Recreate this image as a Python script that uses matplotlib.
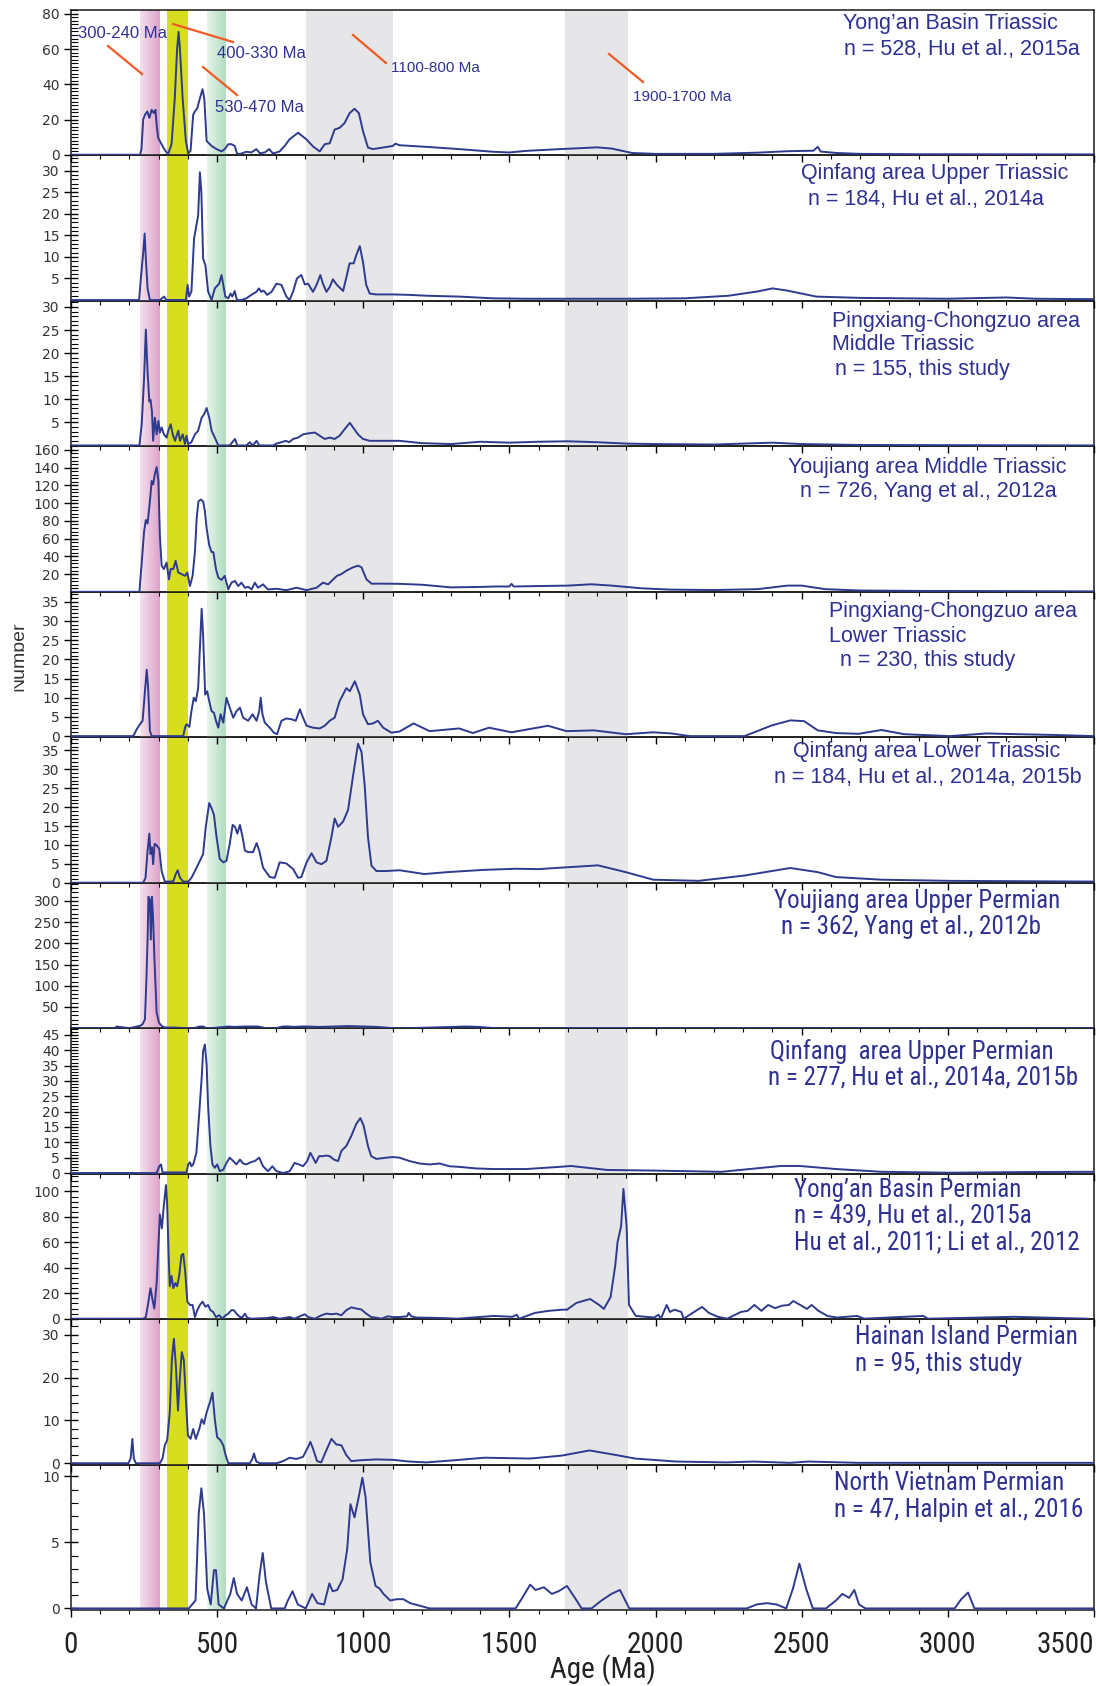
import matplotlib
matplotlib.use("Agg")
import matplotlib.pyplot as plt
from matplotlib import font_manager
from matplotlib.ticker import MultipleLocator
from matplotlib.lines import Line2D
from matplotlib.patches import Rectangle

# ---- detrital zircon age spectra (age in Ma, number) ----
a1 = [0, 236, 241, 247, 253, 261, 268, 276, 284, 289,
      293, 298, 304, 316, 327, 333, 344, 355, 363, 368,
      372, 382, 393, 401, 409, 418, 424, 432, 441, 450,
      456, 464, 481, 498, 515, 526, 538, 549, 560, 568,
      577, 600, 617, 634, 646, 663, 678, 691, 714, 731,
      748, 777, 805, 828, 851, 868, 885, 902, 919, 936,
      953, 970, 985, 999, 1016, 1033, 1067, 1101, 1110, 1124,
      1215, 1329, 1443, 1500, 1557, 1671, 1750, 1800, 1850, 1920,
      2000, 2200, 2350, 2450, 2540, 2555, 2565, 2620, 2700, 2900,
      3500]
c1 = [0, 0, 3, 20, 22.7, 24.6, 20.9, 25.5, 23.6, 25.5,
      17, 9.7, 7.8, 4, 1.3, 0.7, 6, 32, 60, 69.8,
      61.8, 32, 7.8, 0.7, 2.2, 22.7, 24.6, 26.4, 32, 37.2,
      32, 7.8, 5, 3.2, 1.9, 3.2, 6, 6, 5, 0.7,
      0.4, 1.7, 1.3, 3.2, 0.9, 1.3, 3.2, 0.7, 1.9, 5,
      8.8, 12.5, 8.8, 4.7, 1.9, 6, 6.5, 14.3, 15.3, 18,
      23.6, 26.1, 23.6, 13.4, 4.1, 3.2, 4.1, 5, 6.3, 5.4,
      4.5, 3.2, 1.7, 1.3, 2.2, 3.2, 3.8, 4.2, 3.5, 1.0,
      0.5, 0.5, 1.2, 2.0, 2.3, 4.5, 1.8, 1.0, 0.5, 0.3,
      0.2]

a2 = [0, 233, 238, 247, 252, 256, 262, 270, 304, 318,
      327, 350, 393, 399, 404, 412, 421, 429, 435, 441,
      446, 452, 460, 469, 481, 492, 507, 515, 521, 528,
      538, 546, 552, 560, 568, 583, 600, 617, 634, 643,
      651, 659, 671, 686, 703, 720, 737, 748, 760, 773,
      788, 800, 811, 828, 840, 853, 862, 874, 885, 896,
      910, 931, 944, 953, 967, 976, 988, 999, 1010, 1022,
      1044, 1101, 1158, 1215, 1329, 1443, 1557, 1671, 1900, 2100,
      2250, 2350, 2400, 2450, 2550, 2700, 3000, 3200, 3300, 3500]
c2 = [0, 0, 4.2, 11, 15.4, 9.6, 2.7, 0, 0, 0.8,
      0, 0, 0, 3.5, 0.8, 2, 14.2, 17.3, 19.6, 29.6,
      25, 9.6, 8, 2, 0, 2.7, 3.8, 5.8, 3.5, 0.8,
      0.4, 1.5, 0.8, 2.1, 0, 0, 0.4, 1.2, 1.9, 2.7,
      1.9, 2.2, 1.2, 1.9, 3.8, 3.5, 0.8, 0, 2, 5,
      5.8, 3.6, 3.8, 1.9, 3.5, 5.8, 3.8, 1.9, 3, 4.8,
      3.5, 2.1, 5.8, 8.5, 8.5, 10.4, 12.5, 8.8, 3.5, 1.5,
      1.3, 1.3, 1.2, 1.0, 0.8, 0.4, 0.3, 0.3, 0.3, 0.4,
      1.0, 2.0, 2.7, 2.2, 0.8, 0.5, 0.3, 0.6, 0.3, 0.2]

a3 = [0, 234, 242, 250, 256, 262, 268, 272, 277, 281,
      287, 293, 299, 304, 310, 318, 327, 333, 341, 348,
      356, 367, 373, 382, 390, 395, 401, 412, 424, 435,
      447, 455, 464, 473, 481, 492, 504, 543, 561, 569,
      600, 612, 621, 635, 644, 692, 703, 720, 735, 746,
      760, 777, 794, 811, 834, 851, 868, 885, 902, 919,
      936, 954, 965, 982, 999, 1022, 1124, 1200, 1300, 1400,
      1500, 1600, 1700, 1800, 1900, 2000, 2200, 2400, 2500, 2700,
      3500]
c3 = [0, 0, 4.6, 14.5, 25.1, 15.9, 9.5, 9.9, 7.4, 1,
      6, 2.4, 5.3, 2.8, 3.9, 2.4, 1.7, 3.2, 4.6, 2.4,
      1, 3.2, 1, 2.4, 0.3, 2.1, 0.3, 0.7, 2.4, 3.2,
      6, 6.7, 8.1, 6, 3.2, 1.7, 0, 0, 1.4, 0,
      0, 0.7, 0, 1, 0, 0, 0.4, 0.7, 1, 0.7,
      1.4, 1.7, 2.4, 2.6, 2.8, 2.1, 1.4, 1.7, 1.4, 2.1,
      3.5, 4.9, 3.9, 2.4, 1.4, 1, 1.0, 0.5, 0.3, 0.8,
      0.6, 0.8, 0.9, 0.7, 0.4, 0.3, 0.2, 0.6, 0.3, 0.1,
      0]

a4 = [0, 234, 242, 250, 256, 262, 270, 276, 281, 287,
      293, 299, 304, 310, 318, 327, 335, 341, 350, 358,
      367, 378, 390, 398, 407, 416, 424, 430, 436, 444,
      452, 458, 464, 473, 481, 487, 496, 504, 515, 526,
      538, 549, 561, 572, 583, 595, 606, 618, 629, 640,
      657, 674, 703, 737, 771, 806, 840, 862, 880, 897,
      910, 925, 942, 965, 982, 994, 1011, 1028, 1068, 1124,
      1200, 1300, 1400, 1450, 1500, 1507, 1515, 1600, 1700, 1780,
      1850, 1950, 2050, 2200, 2350, 2450, 2500, 2580, 2700, 2900,
      3200, 3500]
c4 = [0, 0, 33, 68, 81, 77, 102, 125, 121, 133,
      140.6, 125, 64, 29.5, 25.7, 33, 14, 25.7, 25.7, 35,
      21.8, 20, 18, 21.8, 6.5, 18, 44.8, 83, 102, 104,
      102, 91, 71.6, 52.5, 44.8, 44.8, 25.7, 16, 13.4, 18,
      2.7, 10.3, 12.3, 6.5, 10.3, 4.6, 5.7, 2.7, 10.3, 4.6,
      8.4, 2.7, 3.4, 1.9, 4.6, 1.9, 4.6, 10.3, 8.4, 14,
      18, 20, 23.8, 27.6, 29.5, 27.6, 14, 9.2, 9.2, 9,
      8, 5, 5.5, 6, 6, 9, 6, 6.5, 7, 8.5,
      7, 4, 2.5, 2, 3, 7, 7, 3, 1.5, 1,
      0.8, 0.5]

a5 = [0, 213, 225, 236, 245, 253, 259, 264, 270, 276,
      384, 390, 395, 405, 412, 420, 427, 435, 441, 447,
      452, 459, 466, 473, 481, 489, 496, 504, 512, 521,
      532, 543, 555, 566, 578, 589, 606, 621, 635, 644,
      649, 655, 663, 680, 694, 705, 720, 737, 754, 769,
      783, 794, 806, 828, 851, 868, 885, 902, 919, 942,
      954, 971, 988, 999, 1016, 1033, 1050, 1068, 1096, 1124,
      1172, 1227, 1328, 1375, 1430, 1507, 1632, 1695, 1789, 1898,
      1992, 2054, 2117, 2304, 2398, 2461, 2508, 2555, 2617, 2695,
      2773, 2851, 3007, 3132, 3241, 3366, 3500]
c5 = [0, 0, 1.8, 3.1, 4, 11.7, 17.3, 12.5, 1.4, 0,
      0, 2.2, 3.1, 2.4, 6.5, 10, 9.1, 12.5, 22.9, 33.2,
      26.3, 10.8, 11.7, 9.1, 6.5, 6.1, 4, 2.2, 5.7, 3.5,
      10, 7.4, 4.8, 6.5, 7.4, 4.8, 4, 5.7, 4, 6.5,
      10, 5.7, 3.5, 2.2, 0.9, 0.5, 4, 4.6, 4.4, 4,
      7, 4.8, 2.7, 2.2, 2, 2.7, 4, 4.8, 9.1, 12.5,
      11.7, 14.3, 10.8, 5.7, 3.1, 3.3, 4, 2.2, 0.9, 1.2,
      3.3, 1.3, 2, 0.8, 2.2, 1, 2.7, 1.3, 1.5, 0.5,
      1, 0.7, 0, 0, 2.8, 4.1, 3.9, 1.5, 0.8, 0.6,
      1.6, 0.5, 0, 0.7, 0.5, 0.3, 0]

a6 = [0, 247, 255, 262, 268, 272, 277, 281, 286, 293,
      302, 310, 321, 338, 350, 358, 365, 373, 384, 401,
      412, 424, 441, 452, 461, 473, 481, 489, 498, 509,
      521, 532, 543, 553, 561, 569, 578, 587, 595, 606,
      623, 635, 644, 657, 680, 697, 714, 737, 760, 777,
      788, 806, 823, 840, 857, 874, 891, 902, 914, 931,
      948, 965, 982, 994, 1005, 1016, 1028, 1045, 1079, 1124,
      1209, 1287, 1412, 1522, 1600, 1678, 1803, 1898, 1992, 2148,
      2304, 2461, 2555, 2617, 2773, 3007, 3500]
c6 = [0, 0, 1.3, 8.5, 13, 7.6, 9.4, 4.9, 10.3, 9.9,
      9, 3.1, 0.3, 0.3, 0.4, 2.2, 3.3, 1.3, 0.3, 0.3,
      1.3, 3.1, 5.8, 7.6, 14.8, 21.1, 19.7, 18, 12.1, 6.3,
      5.4, 5.8, 10.3, 15.3, 14.8, 13, 15.3, 12.1, 8.5, 8.1,
      8.1, 10.5, 8.5, 4, 1.5, 1.3, 5.4, 5.1, 3.6, 1.3,
      1.5, 5.4, 7.8, 5.4, 4.9, 5.8, 12.1, 17, 14.8, 16.2,
      19.3, 28.3, 36.8, 34.6, 25.6, 12.1, 4.5, 3.1, 3.1, 3.3,
      2.3, 2.8, 3.4, 3.7, 3.6, 4, 4.6, 2.8, 0.8, 0.5,
      1.9, 3.9, 2.8, 1.5, 0.8, 0.5, 0.3]

a7 = [0, 150, 156, 200, 236, 245, 253, 258, 262, 265,
      270, 273, 277, 281, 286, 293, 301, 310, 321, 350,
      395, 420, 440, 452, 464, 480, 537, 560, 600, 640,
      668, 700, 725, 745, 760, 790, 805, 850, 900, 950,
      1000, 1050, 1101, 1150, 1306, 1350, 1397, 1450, 3500]
c7 = [0, 0, 4, 0, 5.5, 9.4, 21, 115, 209, 310,
      303, 209, 310, 256, 154, 37, 13, 5.5, 1.6, 1.6,
      0, 0, 4, 4, 0, 0, 4, 3, 4, 4,
      0, 0, 4, 4, 3, 4, 4, 3, 4, 5,
      4, 3, 0, 0, 3, 4, 3, 0, 0]

a8 = [0, 293, 302, 308, 313, 395, 401, 407, 412, 418,
      429, 439, 447, 452, 458, 464, 469, 477, 484, 492,
      500, 509, 521, 532, 543, 555, 566, 578, 589, 600,
      614, 629, 644, 657, 674, 689, 703, 726, 748, 765,
      780, 794, 808, 819, 828, 837, 849, 862, 874, 885,
      899, 914, 925, 942, 959, 976, 990, 1001, 1016, 1027,
      1045, 1079, 1101, 1124, 1158, 1193, 1227, 1261, 1295, 1329,
      1386, 1443, 1557, 1671, 1710, 1835, 1992, 2226, 2429, 2492,
      2617, 2773, 3007, 3241, 3500]
c8 = [0, 0, 2.2, 2.8, 0.2, 0.2, 2.8, 3.5, 2.2, 2.8,
      6.6, 19.9, 30.9, 39.7, 41.9, 35.3, 22, 8.8, 2.8, 1.7,
      2.8, 0.6, 1.1, 3.3, 5, 3.9, 2.8, 4.4, 3.1, 2.8,
      3.5, 3.9, 5, 2.2, 0.6, 2.2, 0.6, 0, 0.6, 3.3,
      2.8, 2.2, 3.9, 6.6, 5, 3.3, 5.5, 5.5, 5.7, 5.5,
      4.4, 3.9, 7.2, 8.8, 12.1, 16, 17.9, 15.5, 8.8, 5.5,
      4.6, 5, 5.2, 5, 3.9, 3.1, 2.8, 3.1, 2.2, 2,
      1.5, 1.3, 1.3, 2, 2.3, 1, 0.8, 0.4, 2.3, 2.3,
      1.3, 0.4, 0.1, 0.3, 0.4]

a9 = [0, 247, 256, 264, 272, 279, 285, 293, 300, 304,
      311, 318, 325, 329, 334, 338, 344, 350, 357, 363,
      370, 378, 384, 391, 398, 407, 416, 424, 432, 441,
      450, 460, 469, 477, 486, 496, 507, 518, 529, 538,
      549, 557, 566, 578, 587, 595, 603, 617, 669, 691,
      714, 748, 765, 783, 800, 811, 834, 857, 874, 891,
      908, 925, 942, 959, 976, 993, 1010, 1027, 1045, 1062,
      1084, 1101, 1124, 1150, 1155, 1164, 1181, 1215, 1272, 1322,
      1447, 1510, 1525, 1533, 1588, 1635, 1682, 1697, 1729, 1776,
      1807, 1823, 1846, 1862, 1870, 1882, 1890, 1901, 1909, 1932,
      1995, 2010, 2018, 2038, 2049, 2065, 2088, 2096, 2159, 2182,
      2213, 2245, 2292, 2315, 2338, 2362, 2385, 2409, 2432, 2456,
      2471, 2495, 2518, 2534, 2557, 2588, 2620, 2690, 2713, 2916,
      2932, 3228, 3478]
c9 = [0, 0, 1.3, 12, 24, 14.8, 8, 28, 63, 82,
      71, 90, 105, 90, 50, 25.5, 33.6, 24, 28, 25.5,
      33.6, 50, 51, 36.3, 13.4, 10.8, 10.8, 1.3, 6.7, 10.8,
      13.4, 9.4, 10.8, 6.7, 5.4, 1.3, 2.7, 0, 2.7, 4,
      6.7, 6.7, 4, 1.3, 1.3, 4, 0.8, 0, 0.5, 1.3,
      0, 1.3, 0, 1.9, 3.5, 1.3, 0, 2.7, 4, 3.5,
      4, 2.7, 6.7, 8.9, 8, 7.3, 4, 1.3, 0.8, 0,
      1.9, 1.3, 1.3, 1.9, 4.6, 1.9, 0.9, 0.8, 0.5, 0,
      2.2, 1.5, 3.1, 0, 4.6, 6.2, 7.1, 7.1, 12.4, 15.5,
      10.8, 7.7, 17, 41.7, 60.3, 72.6, 102, 72.6, 10.8, 2.2,
      0.9, 3.1, 0, 10.8, 5.3, 7.1, 5.3, 0, 9.3, 4.6,
      1.5, 0, 5.3, 6.2, 10.8, 6.2, 10.8, 8.3, 10.2, 10.8,
      13.9, 10.8, 7.7, 10.8, 6.2, 2.2, 0.9, 2.2, 0, 2.2,
      0, 1.5, 0]

a10 = [0, 196, 204, 210, 215, 222, 304, 313, 321, 329,
       338, 345, 352, 359, 366, 372, 379, 386, 393, 400,
       409, 418, 427, 439, 447, 455, 464, 475, 484, 492,
       500, 511, 521, 529, 538, 612, 621, 626, 634, 646,
       703, 726, 748, 771, 794, 811, 819, 828, 842, 856,
       874, 891, 908, 925, 942, 959, 988, 1045, 1101, 1158,
       1215, 1272, 1329, 1415, 1571, 1680, 1774, 1867, 1930, 2070,
       2242, 2336, 2460, 2523, 2695, 3500]
c10 = [0, 0, 1.1, 5.7, 1.1, 0, 0, 1.1, 4.2, 5.4,
       11.9, 24.1, 29.1, 22.6, 12.3, 19.5, 26, 24.1, 15, 6.5,
       5.7, 8, 5.7, 8, 10.3, 9.2, 11.9, 14.2, 16.5, 10.3,
       6.1, 5.4, 4.2, 1.9, 0, 0, 1.1, 2.3, 0.4, 0,
       0, 0.5, 1.3, 1, 1.5, 3.8, 5, 3.4, 0.5, 0.2,
       3.1, 5.7, 4.4, 4.2, 1.9, 0.5, 0.7, 0.9, 0.8, 0.4,
       0.2, 0.5, 0.8, 1.3, 1.1, 1.8, 3, 1.9, 1.1, 0.4,
       0.2, 0.4, 0.1, 0.4, 0.1, 0.1]

a11 = [0, 403, 426, 437, 446, 455, 466, 478, 489, 496,
       505, 523, 545, 557, 568, 584, 602, 618, 633, 645,
       656, 667, 685, 731, 742, 758, 776, 803, 825, 843,
       866, 884, 895, 911, 929, 945, 956, 970, 984, 997,
       1008, 1024, 1042, 1056, 1069, 1092, 1115, 1137, 1160, 1194,
       1227, 1521, 1544, 1571, 1589, 1618, 1645, 1668, 1697, 1724,
       1747, 1781, 1815, 1849, 1878, 1894, 1910, 2312, 2346, 2380,
       2414, 2447, 2470, 2492, 2515, 2538, 2583, 2617, 2639, 2662,
       2680, 2696, 2718, 3023, 3046, 3069, 3091, 3114, 3500]
c11 = [0, 0, 0.6, 7.2, 9.1, 7.2, 1.5, 0.3, 2.9, 2.9,
       0.3, 0, 1.1, 2.3, 1.1, 0.6, 1.6, 0.3, 0, 2.5,
       4.2, 2, 0, 0, 0.6, 1.3, 0.3, 0, 1.1, 0.4,
       0.3, 1.9, 1.3, 1.4, 2.2, 4.5, 7.9, 6.9, 8.4, 9.9,
       8.4, 3.5, 1.7, 1.5, 1.1, 0.6, 0.7, 0.7, 0.4, 0.2,
       0, 0, 0.8, 1.8, 1.4, 1.6, 1.1, 1.3, 1.7, 0.8,
       0, 0, 0.6, 1.1, 1.4, 0.7, 0, 0, 0.3, 0.4,
       0.3, 0, 1.5, 3.4, 1.5, 0, 0, 0.6, 1.1, 0.8,
       1.4, 0.3, 0, 0, 0.7, 1.2, 0, 0, 0]

ages = [a1, a2, a3, a4, a5, a6, a7, a8, a9, a10, a11]
counts = [c1, c2, c3, c4, c5, c6, c7, c8, c9, c10, c11]

ylims = [(-0.4, 82.2), (-0.2, 33.5), (-0.2, 31.3), (0, 164), (-0.3, 37.6),
         (0, 38.5), (0, 343), (-0.2, 47.2), (-0.3, 114), (-0.3, 33.7), (-0.12, 10.9)]
yticks = [[0, 20, 40, 60, 80],
          [5, 10, 15, 20, 25, 30],
          [5, 10, 15, 20, 25, 30],
          [20, 40, 60, 80, 100, 120, 140, 160],
          [0, 5, 10, 15, 20, 25, 30, 35],
          [0, 5, 10, 15, 20, 25, 30, 35],
          [50, 100, 150, 200, 250, 300],
          [0, 5, 10, 15, 20, 25, 30, 35, 40, 45],
          [0, 20, 40, 60, 80, 100],
          [0, 10, 20, 30],
          [0, 5, 10]]
yminor = [2, 1, 1, 4, 1, 1, 10, 1, 4, 2, 1]

# highlighted age windows (Ma) and their left/right colours
bands = [(235, 305, "#f4dfec", "#dca4cb"),
         (330, 402, "#d6de1e", "#d6de1e"),
         (465, 532, "#e4f3e8", "#b0dbbf"),
         (805, 1100, "#e6e6e8", "#e6e6e8"),
         (1690, 1905, "#e6e6e8", "#e6e6e8")]

labels = [
    [("Yong\u2019an Basin Triassic", 843, 24), ("n = 528, Hu et al., 2015a", 844, 50)],
    [("Qinfang area Upper Triassic", 801, 174), ("n = 184, Hu et al., 2014a", 808, 199)],
    [("Pingxiang-Chongzuo area", 832, 322), ("Middle Triassic", 832, 345), ("n = 155, this study", 835, 370)],
    [("Youjiang area Middle Triassic", 788, 467), ("n = 726, Yang et al., 2012a", 800, 491)],
    [("Pingxiang-Chongzuo area", 829, 611), ("Lower Triassic", 829, 636), ("n = 230, this study", 840, 660)],
    [("Qinfang area Lower Triassic", 793, 752), ("n = 184, Hu et al., 2014a, 2015b", 774, 778)],
    [("Youjiang area Upper Permian", 774, 901), ("n = 362, Yang et al., 2012b", 781, 927)],
    [("Qinfang  area Upper Permian", 770, 1052), ("n = 277, Hu et al., 2014a, 2015b", 768, 1077)],
    [("Yong\u2019an Basin Permian", 794, 1190), ("n = 439, Hu et al., 2015a", 794, 1215),
     ("Hu et al., 2011; Li et al., 2012", 794, 1242)],
    [("Hainan Island Permian", 855, 1337), ("n = 95, this study", 855, 1364)],
    [("North Vietnam Permian", 834, 1483), ("n = 47, Halpin et al., 2016", 834, 1510)],
]

window_labels = [("300-240 Ma", 78, 33, 12), ("400-330 Ma", 217, 53, 12), ("530-470 Ma", 215, 107, 12),
                 ("1100-800 Ma", 391, 68, 11), ("1900-1700 Ma", 633, 97, 11)]
pointers = [((108, 142), (46, 74)), ((173, 233), (24, 42)), ((203, 237), (67, 95)),
            ((353, 386), (35, 63)), ((609, 643), (54, 82))]

W, H = 1096, 1686
LINE = "#2e3a8e"
TXT = "#2e3192"
SANS = ["Liberation Sans", "DejaVu Sans"]

# a narrow face if one is installed, otherwise the regular one a bit smaller
installed = {f.name for f in font_manager.fontManager.ttflist}
narrow_name = next((n for n in ["Liberation Sans Narrow", "Arial Narrow", "Roboto Condensed",
                                "Open Sans Condensed", "DejaVu Sans Condensed"] if n in installed), None)
if narrow_name:
    NARROW = [narrow_name, "Liberation Sans"]
    big_size, axis_size = 18, 21
else:
    NARROW = SANS
    big_size, axis_size = 16, 18


def fx(x):
    return x / W


def fy(y):
    return 1 - y / H


def mix(c0, c1, t):
    r0, g0, b0 = matplotlib.colors.to_rgb(c0)
    r1, g1, b1 = matplotlib.colors.to_rgb(c1)
    return (r0 + (r1 - r0) * t, g0 + (g1 - g0) * t, b0 + (b1 - b0) * t)


fig = plt.figure(figsize=(W / 100, H / 100), dpi=100)
gs = fig.add_gridspec(11, 1, left=71 / W, right=1094 / W, top=1 - 10 / H, bottom=1 - 1610 / H, hspace=0)

for i in range(11):
    ax = fig.add_subplot(gs[i])
    ax.set_zorder(30 - i)
    ax.patch.set_visible(False)
    for x0, x1, col0, col1 in bands:
        n = 20
        for k in range(n):
            ax.axvspan(x0 + (x1 - x0) * k / n, x0 + (x1 - x0) * (k + 1) / n,
                       color=mix(col0, col1, k / (n - 1)), lw=0, zorder=0)
    ax.plot(ages[i], counts[i], color=LINE, lw=1.4, zorder=3)
    ax.set_xlim(0, 3500)
    ax.set_ylim(*ylims[i])
    ax.set_yticks(yticks[i])
    ax.yaxis.set_minor_locator(MultipleLocator(yminor[i]))
    ax.set_xticks(range(0, 3501, 500))
    ax.xaxis.set_minor_locator(MultipleLocator(100))
    ax.tick_params(axis="y", which="major", direction="inout", length=10, width=1,
                   pad=3, labelsize=10, labelcolor="#333333")
    ax.tick_params(axis="y", which="minor", direction="in", length=5, width=0.8)
    ax.tick_params(axis="x", which="major", direction="out", length=5, width=1)
    ax.tick_params(axis="x", which="minor", direction="out", length=3, width=0.8)
    for s in ax.spines.values():
        s.set_linewidth(1.1)
        s.set_color("#1a1a1a")
    if i < 10:
        ax.tick_params(axis="x", labelbottom=False)
    else:
        ax.tick_params(axis="x", labelsize=axis_size, pad=10)
        tl = ax.get_xticklabels()
        for t in tl:
            t.set_fontfamily(NARROW)
            t.set_color("#222222")
        tl[-1].set_horizontalalignment("right")

    big = i >= 6
    for text, x, y in labels[i]:
        fig.text(fx(x), fy(y), text, ha="left", va="center", color=TXT,
                 fontsize=big_size if big else 15.5, family=NARROW if big else SANS, zorder=60)

for text, x, y, size in window_labels:
    fig.text(fx(x), fy(y), text, ha="left", va="center", color=TXT, fontsize=size,
             family=SANS, zorder=60)
for xs, ys in pointers:
    fig.add_artist(Line2D([fx(v) for v in xs], [fy(v) for v in ys], color="#f15a24",
                          lw=1.6, transform=fig.transFigure, zorder=60))

fig.text(fx(603), fy(1670), "Age (Ma)", ha="center", va="center", fontsize=axis_size,
         family=NARROW, color="#222222", zorder=60)
fig.text(fx(27), fy(656), "Number", rotation=90, ha="right", va="center", fontsize=14,
         family=SANS, color="#333333", zorder=60)
fig.add_artist(Rectangle((0, 0), fx(13), 1, transform=fig.transFigure, color="white", zorder=70))

fig.savefig("out.png", dpi=100)
